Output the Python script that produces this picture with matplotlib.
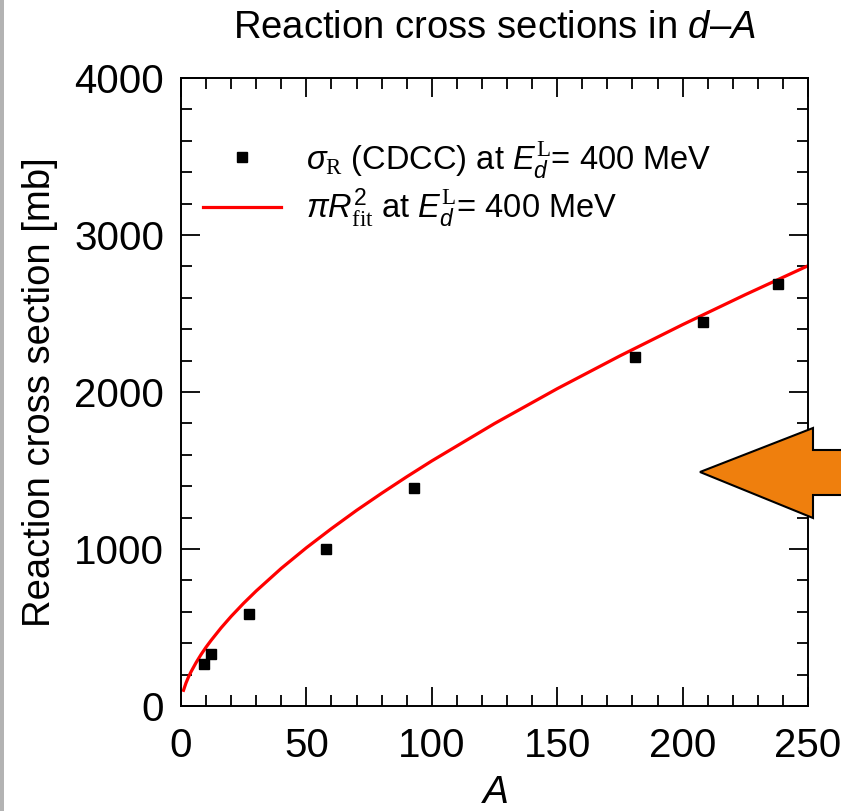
import matplotlib
matplotlib.use('Agg')
import matplotlib.pyplot as plt
from matplotlib.patches import Polygon, Rectangle

plt.rcParams['font.family'] = ['Liberation Sans', 'DejaVu Sans']
plt.rcParams['mathtext.fontset'] = 'custom'
plt.rcParams['mathtext.rm'] = 'Liberation Serif'
plt.rcParams['mathtext.it'] = 'Liberation Sans:italic'
plt.rcParams['mathtext.sf'] = 'Liberation Sans'

# CDCC reaction cross sections
mass_number = [9, 12, 27, 58, 93, 181, 208, 238]
sigma_cdcc = [268, 331, 584, 1000, 1389, 2221, 2448, 2688]

# pi R_fit^2 curve, sampled from the figure
a_fit = [1, 2, 3, 4, 6, 8, 10, 12, 16, 20, 25, 30, 40, 50, 60, 70, 80, 90, 100,
         125, 150, 175, 200, 225, 250]
sigma_fit = [100, 147, 185, 218, 276, 328, 375, 418, 498, 571, 655, 733, 877, 1008,
             1130, 1246, 1355, 1460, 1561, 1799, 2021, 2230, 2429, 2620, 2804]

W, H = 841, 811
fig = plt.figure(figsize=(W / 100, H / 100), dpi=100)
ax = fig.add_axes([181 / W, 1 - 706 / H, (808 - 181) / W, (706 - 78) / H])

ax.plot(a_fit, sigma_fit, color='#ff0000', linewidth=2.3, zorder=2,
        label=r'$\pi R^{\mathsf{2}}_{\mathrm{fit}}$ at $E_d^{\mathrm{L}}$= 400 MeV')
ax.plot(mass_number, sigma_cdcc, linestyle='none', marker='s', markersize=7.8,
        color='black', zorder=3,
        label=r'$\sigma_{\mathrm{R}}$ (CDCC) at $E_d^{\mathrm{L}}$= 400 MeV')

ax.set_xlim(0, 250)
ax.set_ylim(0, 4000)
ax.set_xticks([0, 50, 100, 150, 200, 250])
ax.set_xticks(range(0, 251, 10), minor=True)
ax.set_yticks([0, 1000, 2000, 3000, 4000])
ax.set_yticks(range(0, 4001, 200), minor=True)
ax.tick_params(which='both', direction='in', top=True, right=True, width=1.3,
               labelsize=29)
ax.tick_params(axis='x', pad=15)
ax.tick_params(axis='y', pad=12)
ax.tick_params(which='major', length=14)
ax.tick_params(which='minor', length=8)
for s in ax.spines.values():
    s.set_linewidth(1.4)

ax.set_xlabel('$A$', fontsize=28, labelpad=7)
ax.set_ylabel('Reaction cross section [mb]', fontsize=27.5, labelpad=12)
ax.set_title('Reaction cross sections in $d$–$A$', fontsize=27.5, pad=29)

h, l = ax.get_legend_handles_labels()
ax.legend([h[1], h[0]], [l[1], l[0]], loc='upper left', bbox_to_anchor=(-0.007, 0.945),
          frameon=False, fontsize=23.5, numpoints=1, handlelength=2.4,
          handletextpad=0.75, labelspacing=0.22, borderaxespad=0.4)

# grey strip at the left edge
fig.add_artist(Rectangle((0, 0), 4 / W, 1, transform=fig.transFigure,
                         facecolor='#b3b3b3', edgecolor='none'))

# orange arrow pointing left
arrow_px = [(700, 472), (813, 428), (813, 450), (850, 450),
            (850, 495), (813, 495), (813, 518)]
arrow = Polygon([(x / W, 1 - y / H) for x, y in arrow_px], closed=True,
                transform=fig.transFigure, facecolor='#ef7f0d',
                edgecolor='black', linewidth=1.5, zorder=10)
fig.add_artist(arrow)

fig.savefig('out.png', dpi=100)
